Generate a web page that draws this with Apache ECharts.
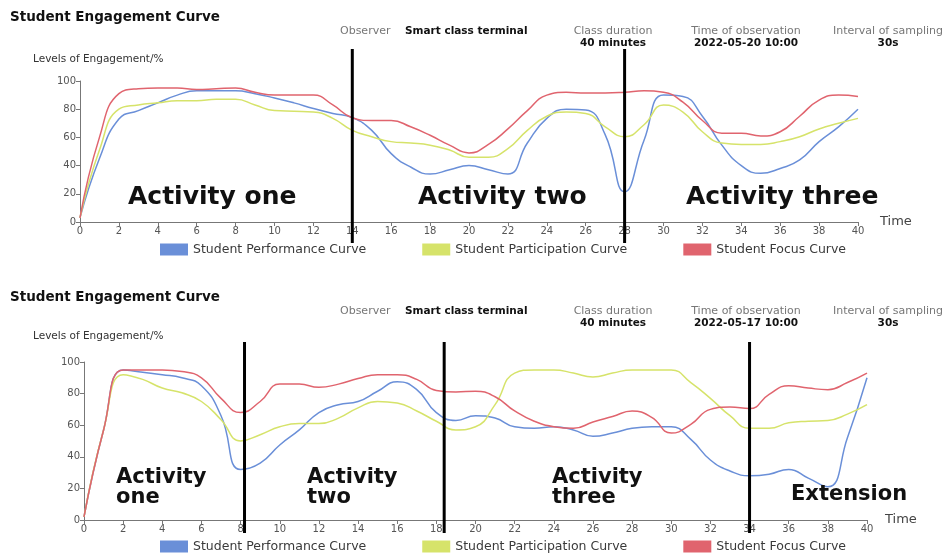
<!DOCTYPE html>
<html><head><meta charset="utf-8">
<script src="https://cdn.jsdelivr.net/npm/echarts@6/dist/echarts.min.js"></script>
<style>html,body{margin:0;padding:0;background:#fff}#c{width:947px;height:553px}</style>
</head><body><div id="c"></div>
<script>
const minutes = [0,1,2,3,4,5,6,7,8,9,10,11,12,13,14,15,16,17,18,19,20,21,22,23,24,25,26,27,28,29,30,31,32,33,34,35,36,37,38,39,40];
const seriesNames = ['Student Performance Curve','Student Participation Curve','Student Focus Curve'];
const colors = ['#6a8fd8','#d6e36a','#e0646e'];

// Panel A (2022-05-20)
const perfA  = [3,45,73,79,84.5,90,93,93,93,91,88,84.5,80.5,77,74,65,48.5,39,34,37,40,37,34,56,73.5,80,79.5,62,21.5,58,90,89,75,54.5,40,34.5,38,44,57,67.5,80];
const partA  = [3,51,80,83,84.5,86,86,87,87,83,79,78.5,78,73.5,65,60.5,57,56,54.5,51,46,46,52,65,75,78,77,67.5,60.5,69,83,78,64,56,55,55,57,60.5,66,70,73.5];
const focusA = [3,60,91,94.5,95,95,94,94.5,95,92,90,90,90,83,74,72,72,67.5,61.5,54.5,49,55,66,79,90,92,91.5,91.5,92,93,92,85,72,63,63,61,64,75,86.5,90,89];
const boundsA = [14,28];
const activitiesA = ['Activity one','Activity two','Activity three'];
const infoA = ['Smart class terminal','40 minutes','2022-05-20 10:00','30s'];

// Panel B (2022-05-17)
const perfB  = [2,57,95,93.5,92,90,85,66,32,36,47.5,57,68,73,75,81.5,87.5,82.5,68,63,66,64.5,59,58,59,57,53,55,58,59,59,51,38,31,28,29,32,26.5,21,52,90];
const partB  = [2,57,92,89,83.5,80.5,75,63.5,50,54,59,61,61,64.5,71,75,74,69,62.5,57,59,73,93,95,95,93,90.5,93,95,95,95,87,77,66,58,58,61.5,62.5,63,67,73];
const focusB = [2,57,95,95,95,94,90,77,68,75,86,86,84,86,89.5,92,92,89,82,81,81.5,78,69,62.5,59,58,62,65.5,69,65,55,60.5,70,71.5,70.5,79.5,85,83.5,82.5,87,93];
const boundsB = [8.2,18.4,34];
const activitiesB = ['Activity\none','Activity\ntwo','Activity\nthree','Extension'];
const infoB = ['Smart class terminal','40 minutes','2022-05-17 10:00','30s'];

const xTicks = {min:0,max:40,interval:2};
const yTicks = {min:0,max:100,interval:20};
const infoLabels = ['Observer','Class duration','Time of observation','Interval of sampling'];
const chartTitle = 'Student Engagement Curve';
const yName = 'Levels of Engagement/%';
const xName = 'Time';

const FF = 'DejaVu Sans';
const chart = echarts.init(document.getElementById('c'), null, {renderer:'canvas'});

const plots = [
  {left:80, right:89, top:81, height:141, ovTop:49, ovH:194, data:[perfA,partA,focusA], bounds:boundsA},
  {left:84, right:80, top:362, height:158, ovTop:342, ovH:191, data:[perfB,partB,focusB], bounds:boundsB}
];

const grid=[], xAxis=[], yAxis=[], series=[];
plots.forEach((p,k)=>{
  grid.push({left:p.left,right:p.right,top:p.top,height:p.height,containLabel:false});
  grid.push({left:p.left,right:p.right,top:p.ovTop,height:p.ovH,containLabel:false});
  const gi = 2*k;
  xAxis.push({type:'value',gridIndex:gi,min:xTicks.min,max:xTicks.max,interval:xTicks.interval,
    name:xName,nameLocation:'end',nameGap:k===0?22:18,
    nameTextStyle:{fontFamily:FF,fontSize:13,color:'#444',verticalAlign:'middle',padding:[k===0?10:14,0,0,0]},
    axisLine:{show:true,onZero:false,lineStyle:{color:'#777',width:1}},
    axisTick:{show:true,length:4,lineStyle:{color:'#777'}},
    axisLabel:{fontFamily:FF,fontSize:10,color:'#555',margin:4},
    splitLine:{show:false}});
  yAxis.push({type:'value',gridIndex:gi,min:yTicks.min,max:yTicks.max,interval:yTicks.interval,
    axisLine:{show:true,lineStyle:{color:'#777',width:1}},
    axisTick:{show:true,length:4,lineStyle:{color:'#777'}},
    axisLabel:{fontFamily:FF,fontSize:10,color:'#555',margin:4},
    splitLine:{show:false}});
  xAxis.push({type:'value',gridIndex:gi+1,min:xTicks.min,max:xTicks.max,show:false});
  yAxis.push({type:'value',gridIndex:gi+1,min:0,max:1,show:false});
  p.data.forEach((arr,j)=>{
    series.push({name:seriesNames[j],type:'line',xAxisIndex:gi,yAxisIndex:gi,smooth:0.5,
      symbol:'none',showSymbol:false,color:colors[j],
      lineStyle:{width:1.5,color:colors[j]},
      data:minutes.map((m,i)=>[m,arr[i]]),z:2});
  });
  p.bounds.forEach(b=>{
    series.push({name:'bound',type:'line',xAxisIndex:gi+1,yAxisIndex:gi+1,symbol:'none',
      lineStyle:{width:3,color:'#000'},data:[[b,0],[b,1]],z:5,silent:true});
  });
});

const legend = [238,535].map(t=>({top:t,left:155,itemWidth:28,itemHeight:12,itemGap:56,icon:'rect',
  data:seriesNames,textStyle:{fontFamily:FF,fontSize:12.5,color:'#3a3a3a'}}));

const g = [];
function txt(x,y,text,size,weight,color,align){
  g.push({type:'text',x:x,y:y,z:10,style:{text:text,font:(weight||'normal')+' '+size+'px "'+FF+'"',
    fill:color||'#222',textAlign:align||'left',textVerticalAlign:'middle',lineHeight:Math.round(size*0.95)}});
}
[[0,infoA],[280,infoB]].forEach(([dy,info])=>{
  txt(10,17+dy,chartTitle,13.5,'bold','#111');
  txt(340,31+dy,infoLabels[0],11,'normal','#777');
  txt(405,31+dy,info[0],10.5,'bold','#111');
  txt(613,31+dy,infoLabels[1],11,'normal','#777','center');
  txt(613,43+dy,info[1],10.5,'bold','#111','center');
  txt(746,31+dy,infoLabels[2],11,'normal','#777','center');
  txt(746,43+dy,info[2],10.5,'bold','#111','center');
  txt(888,31+dy,infoLabels[3],11,'normal','#777','center');
  txt(888,43+dy,info[3],10.5,'bold','#111','center');
});
txt(33,59,yName,10.5,'normal','#333');
txt(33,336,yName,10.5,'normal','#333');
txt(128,197,activitiesA[0],25,'bold','#111');
txt(418,197,activitiesA[1],25,'bold','#111');
txt(686,197,activitiesA[2],25,'bold','#111');
txt(116,488,activitiesB[0],21,'bold','#111');
txt(307,488,activitiesB[1],21,'bold','#111');
txt(552,488,activitiesB[2],21,'bold','#111');
txt(791,495,activitiesB[3],21,'bold','#111');

chart.setOption({animation:false,backgroundColor:'#fff',grid,xAxis,yAxis,series,legend,graphic:g});
</script></body></html>
